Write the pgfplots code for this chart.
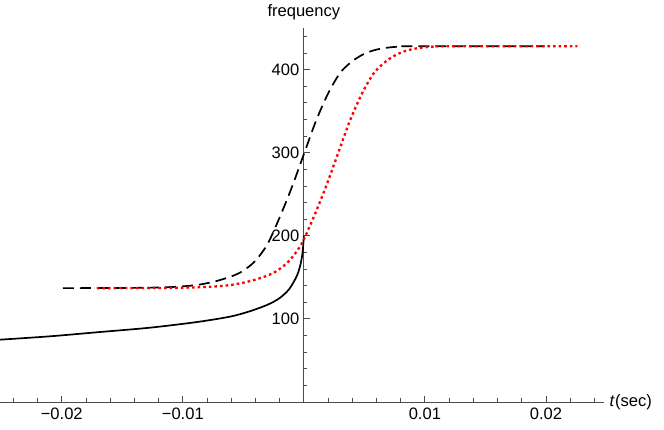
\documentclass[border=0pt]{standalone}
\usepackage{fontspec}
\setmainfont{Liberation Sans}
\usepackage{pgfplots}
\pgfplotsset{compat=1.18}

\begin{document}
\begin{tikzpicture}
\begin{axis}[
  scale only axis,
  width=604bp, height=374bp,
  xmin=-0.0251, xmax=0.0248,
  ymin=0, ymax=450,
  axis lines=middle,
  axis line style={-, black!70, line width=0.8bp},
  every tick/.style={black!70, line width=0.8bp},
  tick align=inside,
  major tick length=6bp,
  minor tick length=3.6bp,
  xtick={-0.02,-0.01,0,0.01,0.02},
  xticklabels={−0.02,−0.01,0.00,0.01,0.02},
  minor xtick={-0.024,-0.022,-0.018,-0.016,-0.014,-0.012,-0.008,-0.006,-0.004,-0.002,
               0.002,0.004,0.006,0.008,0.012,0.014,0.016,0.018,0.022,0.024},
  ytick={100,200,300,400},
  yticklabels={100,200,300,400},
  minor ytick={20,40,60,80,120,140,160,180,220,240,260,280,320,340,360,380,420,440},
  ticklabel style={font=\fontsize{16.6}{19}\selectfont},
  xticklabel style={anchor=north, inner sep=1bp, yshift=-5bp},
  yticklabel style={anchor=east, xshift=-1bp},
  xlabel={\textit{t}\kern0.5bp(sec)},
  ylabel={frequency},
  label style={font=\fontsize{16.6}{19}\selectfont},
  xlabel style={anchor=west, xshift=2bp},
  ylabel style={anchor=south, yshift=5bp},
]
% solid
\addplot[black, line width=1.7bp, smooth] coordinates {
  (-0.0251,75) (-0.021,79) (-0.017,84) (-0.013,89) (-0.010,94) (-0.008,98)
  (-0.006,103) (-0.0045,109) (-0.003,117) (-0.002,125) (-0.0012,136)
  (-0.0006,151) (-0.0003,164) (-0.0001,180) (0,200)
};
% dashed
\addplot[black, line width=1.7bp, dash pattern=on 11bp off 6bp, smooth] coordinates {
  (-0.0199,137) (-0.014,137.3) (-0.011,138.3) (-0.009,140.5) (-0.0075,144.5)
  (-0.006,151) (-0.005,158) (-0.004,170) (-0.003,190) (-0.002,222)
  (-0.001,258) (0,298) (0.001,338) (0.002,371) (0.003,396) (0.004,410)
  (0.005,419) (0.006,424) (0.007,426.5) (0.008,427.7) (0.009,428) (0.0199,428)
};
% red dotted (same shape, shifted)
\addplot[red, line width=2.3bp, dash pattern=on 2.6bp off 3bp, smooth] coordinates {
  (-0.0171,137) (-0.0112,137.3) (-0.0082,138.3) (-0.0062,140.5) (-0.0047,144.5)
  (-0.0032,151) (-0.0022,158) (-0.0012,170) (-0.0002,190) (0.0008,222)
  (0.0018,258) (0.0028,298) (0.0038,338) (0.0048,371) (0.0058,396) (0.0068,410)
  (0.0078,419) (0.0088,424) (0.0098,426.5) (0.0108,427.7) (0.0118,428) (0.0226,428)
};
\end{axis}
\pgfresetboundingbox
\path[use as bounding box] (current axis.south west) ++(0,-28bp) rectangle ++(664bp,430bp);
\end{tikzpicture}
\end{document}
